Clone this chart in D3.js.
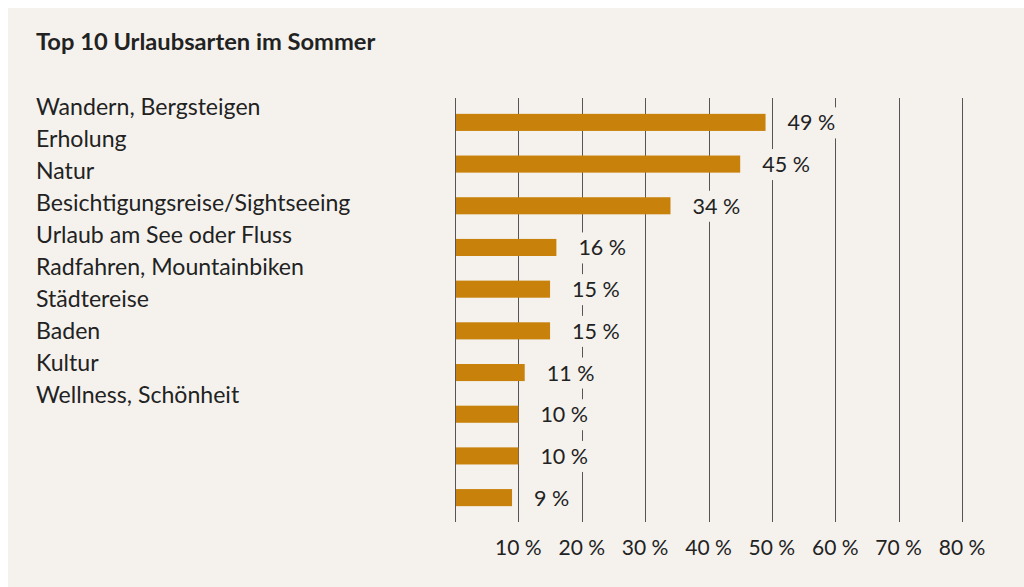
<!DOCTYPE html>
<html>
<head>
<meta charset="utf-8">
<script src="https://cdn.jsdelivr.net/npm/d3@7"></script>
<style>
    html, body { margin: 0; padding: 0; background: #ffffff; }
    svg { display: block; }
</style>
</head>
<body>
<svg id="chart"></svg>
<script>
const title = "Top 10 Urlaubsarten im Sommer";

const categories = [
    "Wandern, Bergsteigen",
    "Erholung",
    "Natur",
    "Besichtigungsreise/Sightseeing",
    "Urlaub am See oder Fluss",
    "Radfahren, Mountainbiken",
    "Städtereise",
    "Baden",
    "Kultur",
    "Wellness, Schönheit"
];

const values = [49, 45, 34, 16, 15, 15, 11, 10, 10, 9];

const tickValues = [0, 10, 20, 30, 40, 50, 60, 70, 80];

const width = 1024;
const height = 587;
const font = "Lato, 'Noto Sans', sans-serif";
const barColor = "#c8820c";
const bgColor = "#f5f2ee";
const textColor = "#222222";

const svg = d3.select("#chart")
    .attr("width", width)
    .attr("height", height)
    .style("font-family", font);

// panel
svg.append("rect")
    .attr("x", 8)
    .attr("y", 8)
    .attr("width", width - 8)
    .attr("height", height - 8)
    .attr("fill", bgColor);

svg.append("text")
    .attr("x", 36)
    .attr("y", 50)
    .attr("font-size", 23.7)
    .attr("font-weight", "bold")
    .attr("fill", textColor)
    .text(title);

// category list on the left (a plain list, not aligned with the bars)
svg.append("g")
    .selectAll("text")
    .data(categories)
    .join("text")
        .attr("x", 36)
        .attr("y", (d, i) => 115 + i * 32)
        .attr("font-size", 23.1)
        .attr("fill", textColor)
        .text(d => d);

const x = d3.scaleLinear()
    .domain([0, 80])
    .range([455, 962]);

const y = d3.scaleBand()
    .domain(d3.range(values.length))
    .range([98, 522])
    .paddingInner(0.59)
    .paddingOuter(0.38);

// gridlines
svg.append("g")
    .selectAll("line")
    .data(tickValues)
    .join("line")
        .attr("x1", d => Math.round(x(d)) + 0.5)
        .attr("x2", d => Math.round(x(d)) + 0.5)
        .attr("y1", 98)
        .attr("y2", 522)
        .attr("stroke", "#555555")
        .attr("stroke-width", 1);

// tick labels
svg.append("g")
    .selectAll("text")
    .data(tickValues.filter(d => d > 0))
    .join("text")
        .attr("x", d => x(d))
        .attr("y", 555)
        .attr("text-anchor", "middle")
        .attr("font-size", 21)
        .attr("fill", textColor)
        .text(d => d + " %");

// bars
svg.append("g")
    .selectAll("rect")
    .data(values)
    .join("rect")
        .attr("x", x(0) + 1)
        .attr("y", (d, i) => y(i))
        .attr("width", d => x(d) - x(0) - 1)
        .attr("height", y.bandwidth())
        .attr("fill", barColor);

// value labels with a knock-out background
const labels = svg.append("g")
    .selectAll("g")
    .data(values)
    .join("g")
        .attr("transform", (d, i) => "translate(" + (x(d) + 22) + "," + (y(i) + y.bandwidth() / 2) + ")");

labels.append("text")
    .attr("y", 8)
    .attr("font-size", 21.5)
    .attr("fill", textColor)
    .text(d => d + " %")
    .each(function() {
        const b = this.getBBox();
        d3.select(this.parentNode).insert("rect", "text")
            .attr("x", b.x - 4)
            .attr("y", -15)
            .attr("width", b.width + 8)
            .attr("height", 31)
            .attr("fill", bgColor);
    });
</script>
</body>
</html>
